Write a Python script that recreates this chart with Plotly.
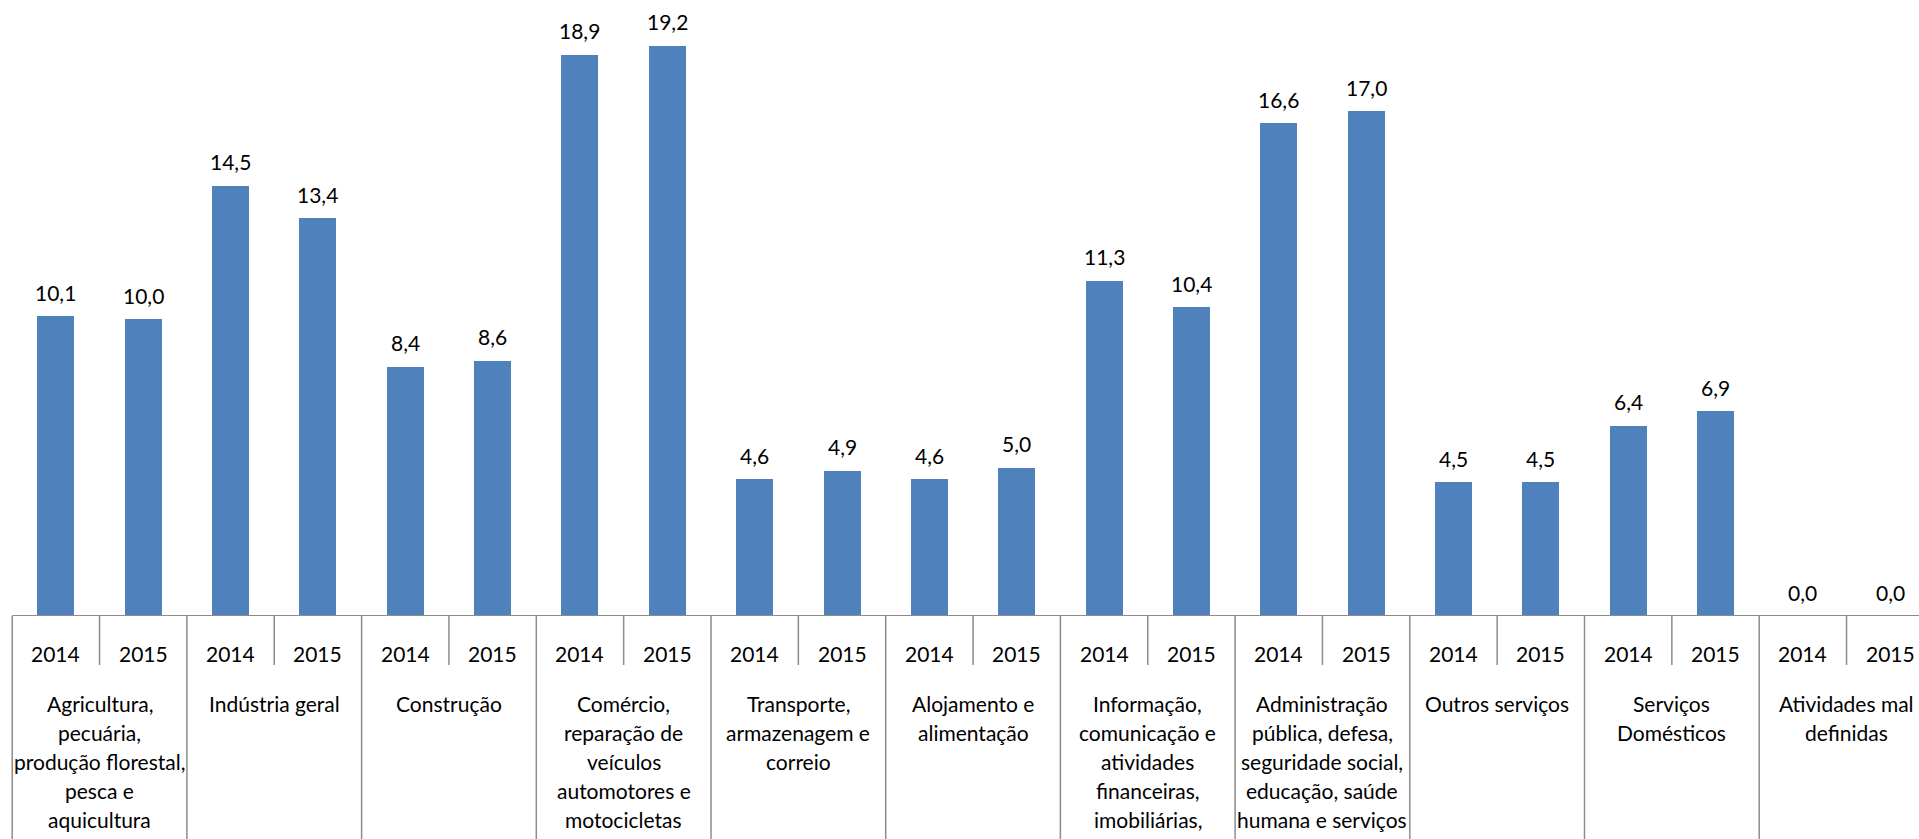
import plotly.graph_objects as go

categories = [
    "Agricultura,\npecuária,\nprodução florestal,\npesca e\naquicultura",
    "Indústria geral",
    "Construção",
    "Comércio,\nreparação de\nveículos\nautomotores e\nmotocicletas",
    "Transporte,\narmazenagem e\ncorreio",
    "Alojamento e\nalimentação",
    "Informação,\ncomunicação e\natividades\nfinanceiras,\nimobiliárias,",
    "Administração\npública, defesa,\nseguridade social,\neducação, saúde\nhumana e serviços",
    "Outros serviços",
    "Serviços\nDomésticos",
    "Atividades mal\ndefinidas",
]
years = ["2014", "2015"]
values_2014 = [10.1, 14.5, 8.4, 18.9, 4.6, 4.6, 11.3, 16.6, 4.5, 6.4, 0.0]
values_2015 = [10.0, 13.4, 8.6, 19.2, 4.9, 5.0, 10.4, 17.0, 4.5, 6.9, 0.0]

W, H = 1919, 839
PLOT_H = 616          # plot area height (px)
BOT = H - PLOT_H
FONT = "Lato, Carlito, Calibri, 'Open Sans', sans-serif"
FS = 21
BAR_COLOR = "#4F81BD"
LINE_COLOR = "#8C8C8C"


def py(ypx):
    """pixel y (from top of figure) -> paper coordinate"""
    return (PLOT_H - ypx) / PLOT_H


series = [values_2014, values_2015]
xs, ys = [], []
for i in range(len(categories)):
    for j in range(len(years)):
        xs.append(2 * i + j)
        ys.append(series[j][i])

fig = go.Figure()
fig.add_trace(go.Bar(x=xs, y=ys, width=0.424, marker=dict(color=BAR_COLOR, line=dict(width=0)),
                     hoverinfo="skip", showlegend=False))

annotations = []
# value labels
for x, v in zip(xs, ys):
    annotations.append(dict(x=x, y=v, xref="x", yref="y", text=f"{v:.1f}".replace(".", ","),
                            showarrow=False, yanchor="middle", xanchor="center", yshift=24,
                            font=dict(family=FONT, size=FS, color="#000000")))
# year labels
for x in xs:
    annotations.append(dict(x=x, y=py(653), xref="x", yref="paper", text=years[x % 2],
                            showarrow=False, yanchor="middle", xanchor="center",
                            font=dict(family=FONT, size=FS, color="#000000")))
# category labels, one annotation per line
for i, cat in enumerate(categories):
    for k, line in enumerate(cat.split("\n")):
        annotations.append(dict(x=2 * i + 0.5, y=py(703 + 29.1 * k), xref="x", yref="paper",
                                text=line, showarrow=False, yanchor="middle", xanchor="center",
                                font=dict(family=FONT, size=FS, color="#000000")))

shapes = []
n = len(categories)
# axis line
shapes.append(dict(type="line", xref="x", yref="y", x0=-0.5, x1=2 * n, y0=0, y1=0,
                   line=dict(color=LINE_COLOR, width=2)))
# long dividers between categories
for i in range(n + 1):
    shapes.append(dict(type="line", xref="x", yref="paper", x0=2 * i - 0.5, x1=2 * i - 0.5,
                       y0=0, y1=py(H + 20), line=dict(color=LINE_COLOR, width=1.5)))
# short dividers between years
for i in range(n):
    shapes.append(dict(type="line", xref="x", yref="paper", x0=2 * i + 0.5, x1=2 * i + 0.5,
                       y0=0, y1=py(665), line=dict(color=LINE_COLOR, width=1.5)))

slot_px = 87.35
x0 = -0.5 - 12.2 / slot_px
x1 = x0 + W / slot_px

fig.update_layout(
    width=W, height=H,
    margin=dict(l=0, r=0, t=0, b=BOT, pad=0),
    paper_bgcolor="white", plot_bgcolor="white",
    xaxis=dict(range=[x0, x1], showgrid=False, zeroline=False, showticklabels=False,
               showline=False, ticks=""),
    yaxis=dict(range=[0, PLOT_H / 29.69], showgrid=False, zeroline=False, showticklabels=False,
               showline=False, ticks=""),
    bargap=0,
    annotations=annotations,
    shapes=shapes,
)

fig.write_html("out.html", config={"displayModeBar": False},
               post_script="document.body.style.margin='0';document.body.style.overflow='hidden';")
